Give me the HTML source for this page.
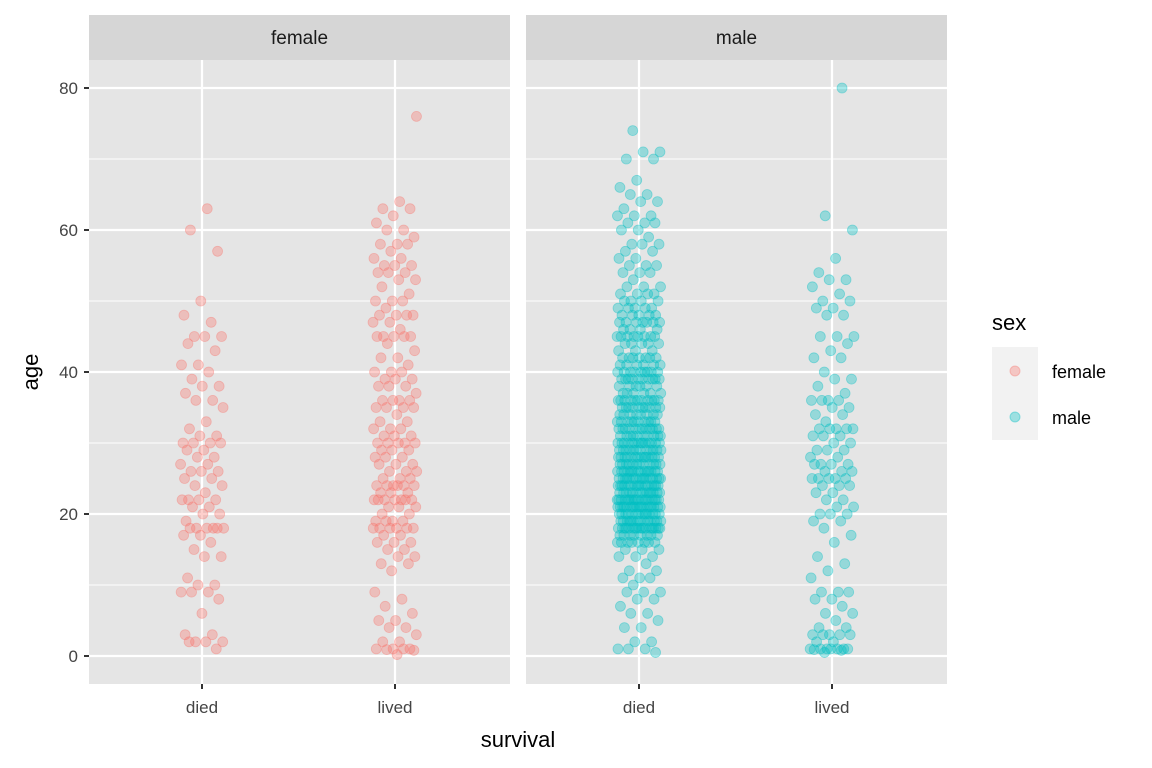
<!DOCTYPE html>
<html><head><meta charset="utf-8"><style>
body{margin:0;background:#fff;}
svg{display:block;font-family:"Liberation Sans",Arial,sans-serif;}
</style></head><body>
<svg id="chart" width="1152" height="768" viewBox="0 0 1152 768">
<g id="bg"></g><g id="pts"></g><g id="axes"></g>
</svg>
<script>
const panels = ["female","male"];
const categories = ["died","lived"];
const yTicks = [0,20,40,60,80];
const femaleDied = [63,60,57,50,48,47,45,45,45,44,43,41,41,40,39,38,38,37,36,36,35,33,32,31,31,30,30,30,30,29,29,28,28,27,27,26,26,26,25,25,24,24,23,22,22,22,22,21,21,20,20,19,18,18,18,18,18,18,17,17,16,15,14,14,11,10,10,9,9,9,8,6,3,3,2,2,2,2,1];
const femaleLived = [76,64,63,63,62,61,60,60,59,58,58,58,57,56,56,55,55,55,54,54,54,53,53,52,51,50,50,50,49,48,48,48,48,47,47,46,45,45,45,45,45,44,43,42,42,41,40,40,40,39,39,39,38,38,38,37,36,36,36,36,35,35,35,35,34,33,33,32,32,32,31,31,31,30,30,30,30,30,29,29,29,28,28,28,27,27,27,26,26,26,25,25,25,24,24,24,24,24,24,23,23,23,22,22,22,22,22,22,22,21,21,21,20,20,19,19,19,19,18,18,18,18,18,18,17,17,16,16,16,15,15,14,14,13,13,12,9,8,7,6,5,5,4,4,3,2,2,1,1,1,1,0.9,0.8,0.2];
const maleDiedAges = [74,71,70,67,66,65,64,63,62,61,60,59,58,57,56,55,54,53,52,51,50,49,48,47,46,45,44,43,42,41,40,39,38,37,36,35,34,33,32,31,30,29,28,27,26,25,24,23,22,21,20,19,18,17,16,15,14,13,12,11,10,9,8,7,6,5,4,2,1,0.5];
const maleDiedCounts = [1,2,2,1,1,2,2,1,3,3,2,1,3,2,2,3,3,1,3,4,4,5,5,7,4,8,5,3,7,6,9,10,6,6,11,10,8,10,12,10,14,12,14,12,15,16,16,14,18,18,14,14,18,8,8,3,3,1,2,3,1,3,2,1,2,1,2,2,3,1];
const maleLived = [80,62,60,56,54,53,53,52,51,50,50,49,49,48,48,45,45,45,44,43,42,42,40,39,39,38,37,36,36,36,36,35,35,34,34,33,32,32,32,32,32,31,31,31,30,30,29,29,29,28,28,27,27,27,27,26,26,26,25,25,25,25,25,24,24,24,23,23,22,22,21,21,20,20,20,19,19,18,17,16,14,13,12,11,9,9,9,8,8,7,6,6,5,4,4,3,3,3,3,3,2,2,1,1,1,1,1,1,1,0.9,0.8,0.5];

const NS="http://www.w3.org/2000/svg";
function mk(tag,attrs,parent){const e=document.createElementNS(NS,tag);for(const k in attrs)e.setAttribute(k,attrs[k]);parent.appendChild(e);return e;}
const panelX=[89,526], panelW=421, plotTop=60, plotBottom=684;
const yScale=v=>656-(v/80)*568;
const xScale=(p,c)=>panelX[p]+113+c*193;
const bg=document.getElementById('bg'), pts=document.getElementById('pts'), ax=document.getElementById('axes');

panels.forEach((pn,p)=>{
  const r=mk('rect',{x:panelX[p],y:plotTop,width:panelW,height:plotBottom-plotTop,fill:'#E5E5E5'},bg);
  
  
  const s=mk('rect',{x:panelX[p],y:15,width:panelW,height:45,fill:'#D6D6D6'},bg);
  
  
  const st=mk('text',{x:panelX[p]+panelW/2,y:44,'text-anchor':'middle','font-size':19,fill:'#1A1A1A'},bg);
  st.textContent=pn;
  
  
  [10,30,50,70].forEach(v=>mk('line',{x1:panelX[p],x2:panelX[p]+panelW,y1:yScale(v),y2:yScale(v),stroke:'#fff','stroke-width':1.1},bg));
  yTicks.forEach(v=>mk('line',{x1:panelX[p],x2:panelX[p]+panelW,y1:yScale(v),y2:yScale(v),stroke:'#fff','stroke-width':2.2},bg));
  categories.forEach((c,ci)=>mk('line',{x1:xScale(p,ci),x2:xScale(p,ci),y1:plotTop,y2:plotBottom,stroke:'#fff','stroke-width':2.2},bg));
});

const maleDied=[];
maleDiedAges.forEach((a,i)=>{for(let k=0;k<maleDiedCounts[i];k++)maleDied.push(a);});
const groups=[[0,0,femaleDied,'#F8766D'],[0,1,femaleLived,'#F8766D'],[1,0,maleDied,'#00BFC4'],[1,1,maleLived,'#00BFC4']];
groups.forEach(([p,c,arr,col],gi)=>{
  arr.forEach((v,i)=>{
    const j=(((i+1)*0.6180339+gi*0.37)%1-0.5)*44;
    const e=mk('circle',{cx:xScale(p,c)+j,cy:yScale(v),r:5,fill:col,'fill-opacity':0.35,stroke:col,'stroke-opacity':0.4,'stroke-width':0.8},pts);
    
    
  });
});

yTicks.forEach(v=>{
  mk('line',{x1:84,x2:89,y1:yScale(v),y2:yScale(v),stroke:'#333','stroke-width':2},ax);
  const t=mk('text',{x:78,y:yScale(v)+6,'text-anchor':'end','font-size':17,fill:'#444'},ax);
  t.textContent=v;
  
  
});
panels.forEach((pn,p)=>categories.forEach((c,ci)=>{
  mk('line',{x1:xScale(p,ci),x2:xScale(p,ci),y1:684,y2:689,stroke:'#333','stroke-width':2},ax);
  const t=mk('text',{x:xScale(p,ci),y:713,'text-anchor':'middle','font-size':17,fill:'#444'},ax);
  t.textContent=c;
  
  
}));
const xt=mk('text',{x:518,y:747,'text-anchor':'middle','font-size':22,fill:'#000'},ax);
xt.textContent='survival';


const yt=mk('text',{x:38,y:372,'text-anchor':'middle','font-size':22,fill:'#000',transform:'rotate(-90 38 372)'},ax);
yt.textContent='age';



const lg=mk('g',{},ax);


const lt=mk('text',{x:992,y:330,'font-size':22,fill:'#000'},lg);
lt.textContent='sex';
mk('rect',{x:992,y:347,width:46,height:93,fill:'#F2F2F2'},lg);
[['female','#F8766D',371],['male','#00BFC4',417]].forEach(([n,col,cy])=>{
  const e=mk('g',{},lg);
  
  
  mk('circle',{cx:1015,cy:cy,r:5,fill:col,'fill-opacity':0.35,stroke:col,'stroke-opacity':0.4},e);
  const t=mk('text',{x:1052,y:cy+7,'font-size':18,fill:'#000'},e);
  t.textContent=n;
});
</script>
</body></html>
